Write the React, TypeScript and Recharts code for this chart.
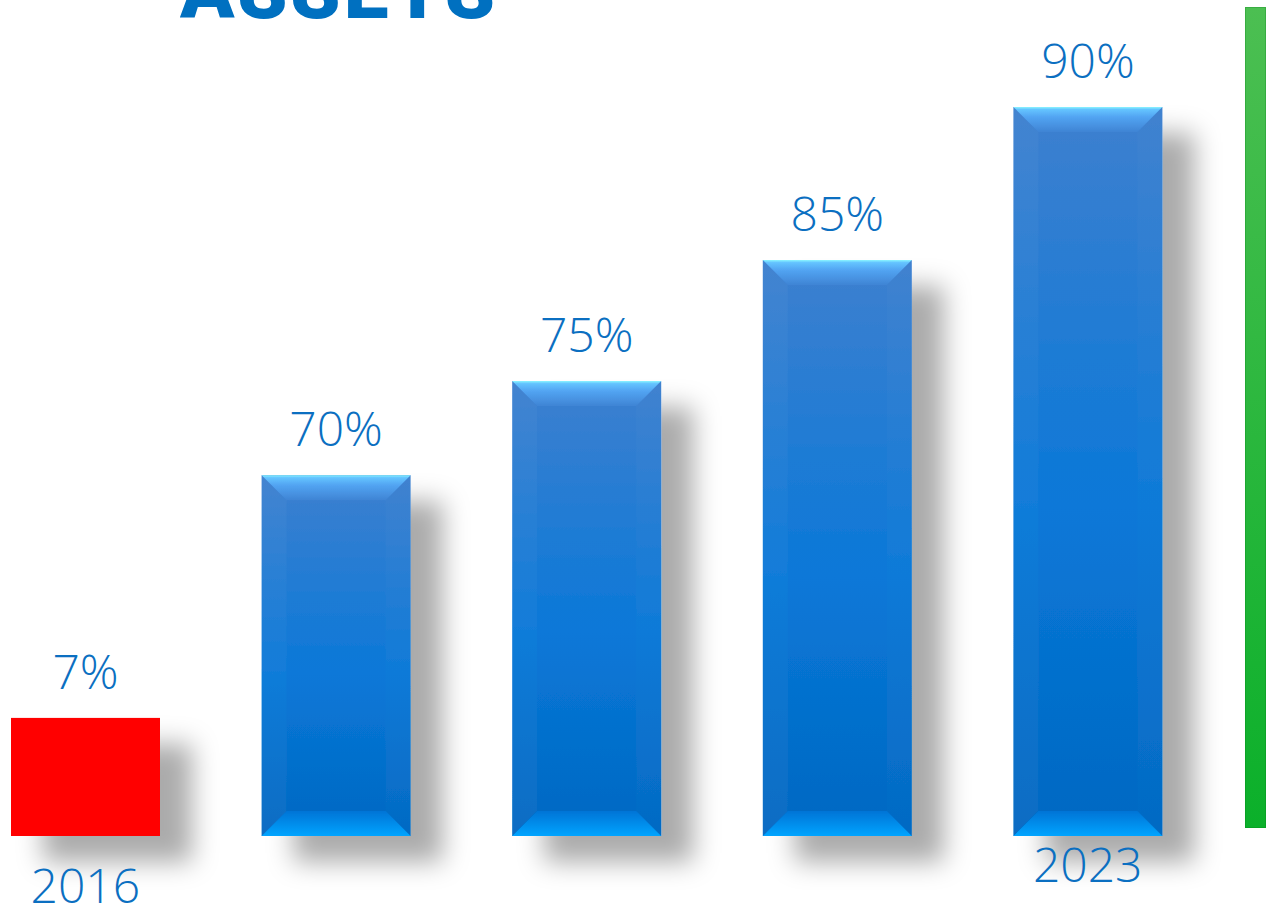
import React from "react"
import { BarChart, Bar, XAxis, YAxis, LabelList } from "recharts"

// drawn bar heights (index, tallest bar = 100)
const categories = ["c1", "c2", "c3", "c4", "c5"]
const barHeights = [16.2, 49.5, 62.4, 79, 100]
const valueLabels = ["7%", "70%", "75%", "85%", "90%"]
const yearLabels = ["2016", "", "", "", "2023"]

const data = categories.map((key, i) => ({
   key,
   height: barHeights[i],
   label: valueLabels[i],
   year: yearLabels[i],
}))

const BLUE_TEXT = "#0b6fc1"

const BarShape = (props: any) => {
   const { x, y, width, height, index } = props
   if (index === 0) {
      return (
         <g filter="url(#barShadow)">
            <rect x={x} y={y} width={width} height={height} fill="#ff0000" />
         </g>
      )
   }
   const b = 25
   const r = x + width
   const btm = y + height
   return (
      <g filter="url(#barShadow)">
         <rect x={x} y={y} width={width} height={height} fill="url(#bodyGrad)" />
         <polygon
            points={`${x},${y} ${x + b},${y + b} ${x + b},${btm - b} ${x},${btm}`}
            fill="#ffffff"
            opacity={0.03}
         />
         <polygon
            points={`${r},${y} ${r - b},${y + b} ${r - b},${btm - b} ${r},${btm}`}
            fill="#ffffff"
            opacity={0.02}
         />
         <polygon
            points={`${x},${y} ${r},${y} ${r - b},${y + b} ${x + b},${y + b}`}
            fill="url(#topGrad)"
         />
         <polygon
            points={`${x + b},${btm - b} ${r - b},${btm - b} ${r},${btm} ${x},${btm}`}
            fill="url(#bottomGrad)"
         />
      </g>
   )
}

const YearTick = (props: any) => {
   const { x, y, index } = props
   const text = yearLabels[index]
   if (!text) return null
   const dy = index === 0 ? 59 : 38
   return (
      <text
         x={x}
         y={y + dy}
         textAnchor="middle"
         fill={BLUE_TEXT}
         fontFamily="'Open Sans', sans-serif"
         fontWeight={300}
         fontSize={48}
      >
         {text}
      </text>
   )
}

export default function App() {
   return (
      <div
         style={{
            position: "relative",
            width: 1266,
            height: 911,
            overflow: "hidden",
            background: "#ffffff",
         }}
      >
         <style>{`body{margin:0}`}</style>
         <div
            style={{
               position: "absolute",
               left: 180,
               top: -49,
               fontFamily: "Roboto, sans-serif",
               fontWeight: 900,
               fontSize: 80,
               letterSpacing: 3,
               lineHeight: "80px",
               color: "#0070c0",
               whiteSpace: "nowrap",
            }}
         >
            ASSETS
         </div>
         <div style={{ position: "absolute", left: -40, top: 0 }}>
            <BarChart
               width={1313}
               height={911}
               data={data}
               margin={{ top: 107, right: 60, bottom: 0, left: 0 }}
               barCategoryGap={0}
            >
               <defs>
                  <filter id="barShadow" x="-40%" y="-40%" width="190%" height="190%">
                     <feDropShadow
                        dx={32}
                        dy={26}
                        stdDeviation={13}
                        floodColor="#000000"
                        floodOpacity={0.33}
                     />
                  </filter>
                  <linearGradient id="bodyGrad" x1="0" y1="0" x2="0" y2="1">
                     <stop offset="0%" stopColor="#3e80cf" />
                     <stop offset="55%" stopColor="#0a78d8" />
                     <stop offset="100%" stopColor="#0068c2" />
                  </linearGradient>
                  <linearGradient id="topGrad" x1="0" y1="0" x2="0" y2="1">
                     <stop offset="0%" stopColor="#8af4ff" />
                     <stop offset="10%" stopColor="#64c4ff" />
                     <stop offset="40%" stopColor="#52a4f2" />
                     <stop offset="100%" stopColor="#3f84d4" />
                  </linearGradient>
                  <linearGradient id="bottomGrad" x1="0" y1="0" x2="0" y2="1">
                     <stop offset="0%" stopColor="#0074d6" />
                     <stop offset="100%" stopColor="#00a4ff" />
                  </linearGradient>
               </defs>
               <XAxis
                  dataKey="key"
                  axisLine={false}
                  tickLine={false}
                  height={75}
                  interval={0}
                  tick={<YearTick />}
               />
               <YAxis hide domain={[0, 100]} />
               <Bar
                  dataKey="height"
                  barSize={149}
                  shape={<BarShape />}
                  isAnimationActive={false}
               >
                  <LabelList
                     dataKey="label"
                     position="top"
                     offset={29}
                     fill={BLUE_TEXT}
                     fontFamily="'Open Sans', sans-serif"
                     fontWeight={300}
                     fontSize={48}
                  />
               </Bar>
            </BarChart>
         </div>
         <div
            style={{
               position: "absolute",
               left: 1245,
               top: 7,
               width: 21,
               height: 821,
               background: "linear-gradient(#4cbf52, #0bb02a)",
               boxShadow: "inset 0 0 0 1px rgba(0,120,20,0.25)",
            }}
         />
      </div>
   )
}
